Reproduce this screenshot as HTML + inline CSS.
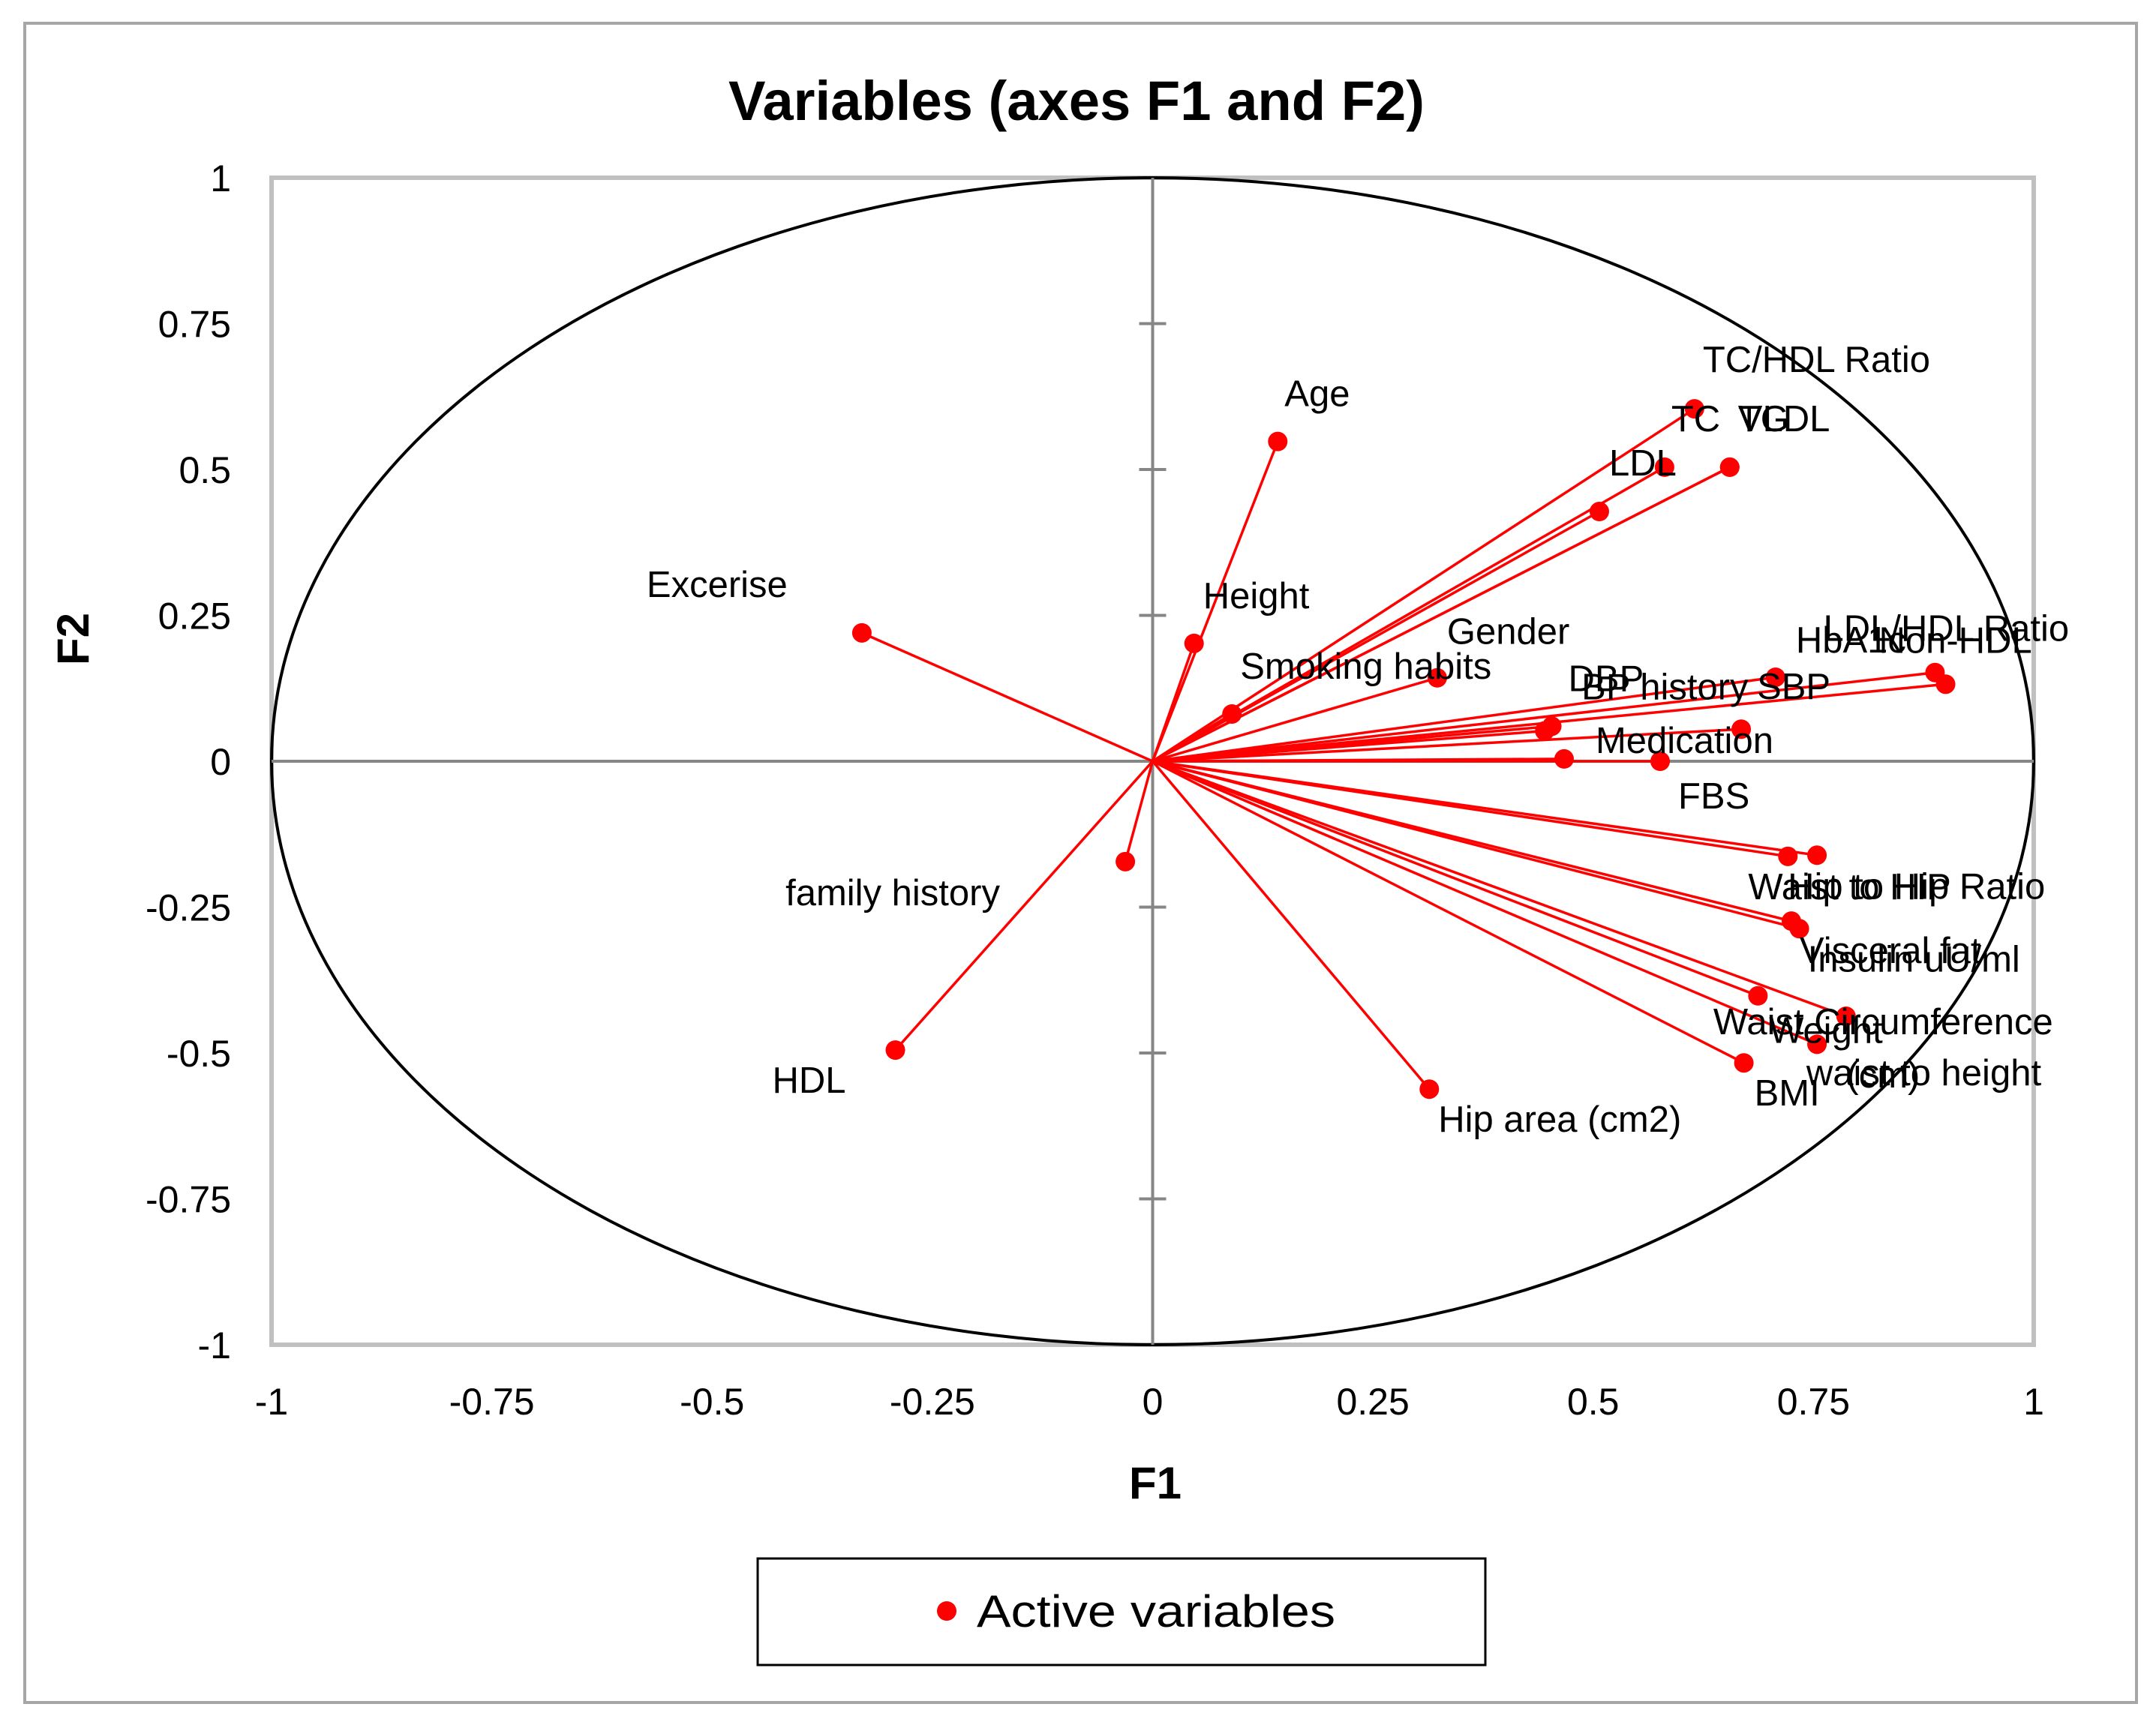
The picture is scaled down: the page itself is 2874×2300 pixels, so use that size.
<!DOCTYPE html>
<html><head><meta charset="utf-8"><style>
html,body{margin:0;padding:0;background:#fff;}
svg{display:block;font-family:"Liberation Sans",sans-serif;}
</style></head><body>
<svg id="chart" width="2874" height="2300" viewBox="0 0 2874 2300" xmlns="http://www.w3.org/2000/svg">
<rect x="33" y="31" width="2815" height="2239" fill="#fff" stroke="#a6a6a6" stroke-width="4"/>
<text x="1435" y="160" text-anchor="middle" font-size="74" font-weight="bold" textLength="928" lengthAdjust="spacingAndGlyphs">Variables (axes F1 and F2)</text>
<rect x="362" y="237" width="2349" height="1556" fill="none" stroke="#c0c0c0" stroke-width="6"/>
<g id="axes"></g>
<g id="marks"></g>
<g id="labels"></g>
<text x="1540" y="1998" text-anchor="middle" font-size="60" font-weight="bold">F1</text>
<text transform="translate(118,852) rotate(-90)" text-anchor="middle" font-size="60" font-weight="bold">F2</text>
<g>
<rect x="1010" y="2078" width="970" height="142" fill="#fff" stroke="#000" stroke-width="3"/>
<circle cx="1262" cy="2148" r="13" fill="#ff0000"/>
<text x="1302" y="2169" font-size="60" textLength="478" lengthAdjust="spacingAndGlyphs">Active variables</text>
</g>
</svg>
<script>
const names = ["Age","Excerise","Height","Smoking habits","Gender","family history","HDL","Hip area (cm2)","TC/HDL Ratio","TC","VLDL","TG","LDL","DBP","BP history","Medication","FBS","SBP","HbA1c","LDL/HDL Ratio","Non-HDL","Waist to HIP","Hip to Hip Ratio","Visceral fat","Insulin uU/ml","Waist Circumference|(cm)","Weight","waist to height","BMI"];
const f1 = [0.142,-0.330,0.047,0.090,0.323,-0.031,-0.292,0.314,0.615,0.581,0.655,0.655,0.507,0.453,0.445,0.467,0.576,0.668,0.707,0.888,0.900,0.721,0.754,0.725,0.734,0.687,0.754,0.787,0.671];
const f2 = [0.548,0.220,0.202,0.081,0.143,-0.172,-0.495,-0.562,0.604,0.504,0.504,0.504,0.428,0.060,0.052,0.004,0.000,0.055,0.144,0.152,0.132,-0.163,-0.161,-0.274,-0.287,-0.402,-0.485,-0.437,-0.517];
const xTicks = [-1,-0.75,-0.5,-0.25,0,0.25,0.5,0.75,1];
const yTicks = [-1,-0.75,-0.5,-0.25,0,0.25,0.5,0.75,1];
const labelDx = [9,-287,12,11,13,-453,-164,12,11,9,11,11,13,22,49,42,24,21,27,-149,-89,-53,-39,11,11,-80,-64,-53,14];
const labelDy = [-64,-65,-64,-64,-62,41,40,40,-66,-65,-65,-65,-65,-64,-59,-25,46,-57,-50,-59,-59,40,41,39,40,34,-19,75,40];

const NS="http://www.w3.org/2000/svg";
const X0=362,X1=2711,Y0=237,Y1=1793;
function sx(v){return X0+(v+1)/2*(X1-X0);}
function sy(v){return Y1-(v+1)/2*(Y1-Y0);}
function mk(tag,attrs,parent){const e=document.createElementNS(NS,tag);for(const k in attrs)e.setAttribute(k,attrs[k]);parent.appendChild(e);return e;}
const axes=document.getElementById('axes'),marks=document.getElementById('marks'),labels=document.getElementById('labels');

let el=mk('ellipse',{cx:sx(0),cy:sy(0),rx:sx(1)-sx(0),ry:sy(0)-sy(1),fill:'none',stroke:'#000','stroke-width':4},axes);


el=mk('line',{x1:sx(-1),x2:sx(1),y1:sy(0),y2:sy(0),stroke:'#868686','stroke-width':4},axes);


el=mk('line',{x1:sx(0),x2:sx(0),y1:sy(-1),y2:sy(1),stroke:'#868686','stroke-width':4},axes);


yTicks.forEach(t=>{
  if(t!==0&&Math.abs(t)!==1){
    const tk=mk('line',{x1:sx(0)-18,x2:sx(0)+18,y1:sy(t),y2:sy(t),stroke:'#868686','stroke-width':4},axes);
    
    
  }
  const tl=mk('text',{x:308,y:sy(t)+18,'text-anchor':'end','font-size':50},axes);
  tl.textContent=String(t);
  
  
});
xTicks.forEach(t=>{
  const tl=mk('text',{x:sx(t),y:1886,'text-anchor':'middle','font-size':50},axes);
  tl.textContent=String(t);
  
  
});
names.forEach((n,i)=>{
  const px=sx(f1[i]),py=sy(f2[i]);
  const ln=mk('line',{x1:sx(0),y1:sy(0),x2:px,y2:py,stroke:'#ff0000','stroke-width':3.5},marks);
  
  
});
names.forEach((n,i)=>{
  const px=sx(f1[i]),py=sy(f2[i]);
  const c=mk('circle',{cx:px,cy:py,r:13,fill:'#ff0000'},marks);
  
  
  const parts=n.split('|');
  if(parts.length>1){
    const cx=px+labelDx[i]+247;
    parts.forEach((p,k)=>{
      const t=mk('text',{x:cx,y:py+labelDy[i]+17+k*71,'text-anchor':'middle','font-size':49},labels);
      t.textContent=p;
      
      
    });
  } else {
    const t=mk('text',{x:px+labelDx[i],y:py+labelDy[i]+17,'font-size':49},labels);
    t.textContent=n;
    
    
  }
});
</script>
</body></html>
